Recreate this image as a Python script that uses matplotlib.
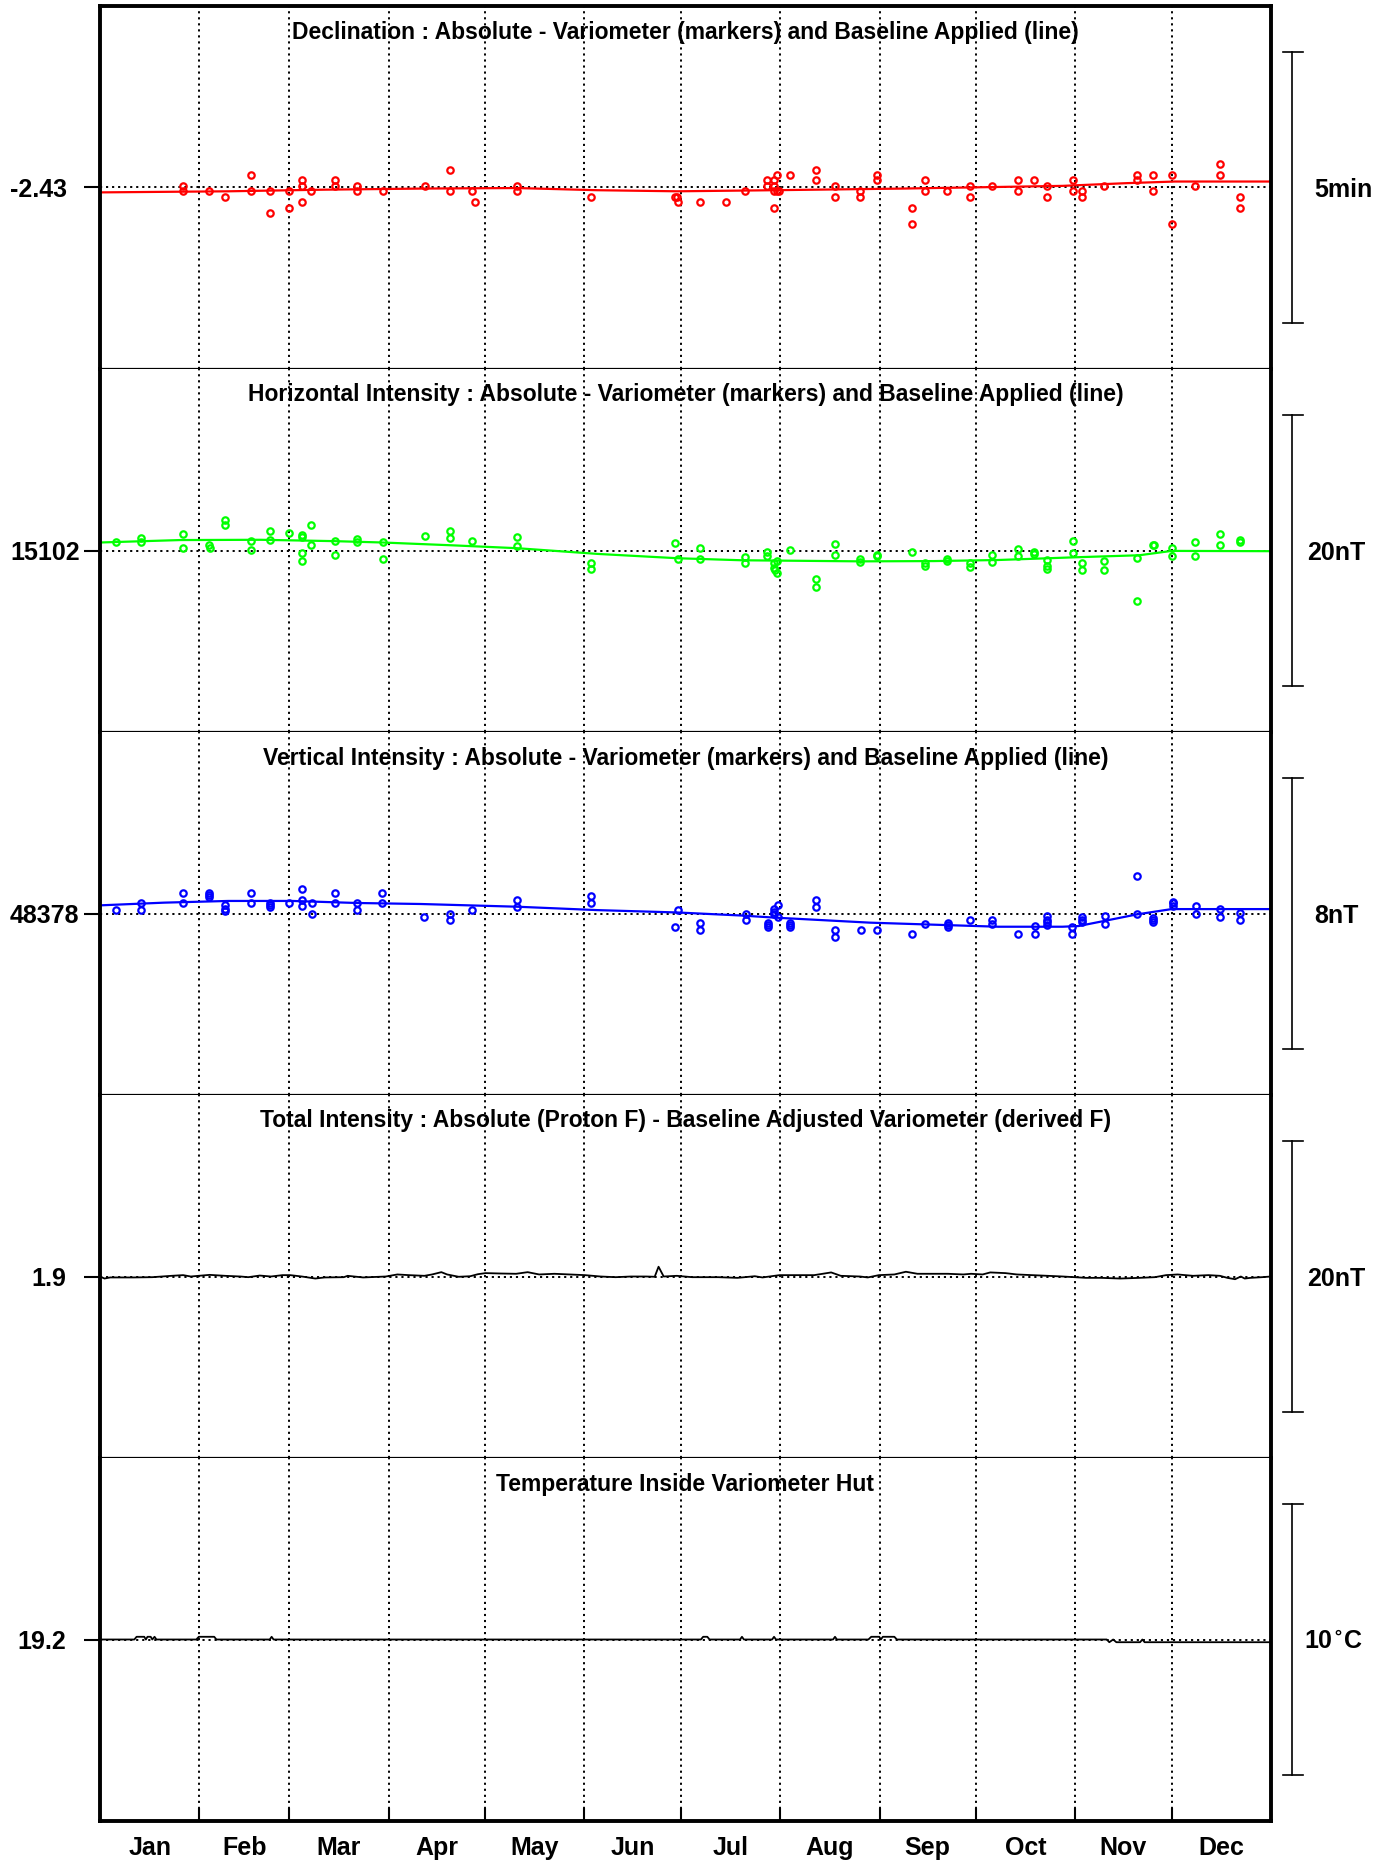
import matplotlib
matplotlib.use("Agg")
import matplotlib.pyplot as plt
from matplotlib.transforms import blended_transform_factory

plt.rcParams["font.family"] = ["Liberation Sans", "DejaVu Sans"]
plt.rcParams["font.weight"] = "bold"
plt.rcParams["mathtext.default"] = "bf"

# -- calendar, day of year --
months = ["Jan", "Feb", "Mar", "Apr", "May", "Jun",
          "Jul", "Aug", "Sep", "Oct", "Nov", "Dec"]
month_start = [0, 31, 59, 90, 120, 151, 181, 212, 243, 273, 304, 334, 365]

# -- declination (arc minutes): absolute - variometer and applied baseline --
decl_ref = -145.73
decl_obs_days = [26.0, 33.9, 39.1, 47.0, 53.0, 59.0, 63.0, 65.9, 73.1, 80.0,
                 88.1, 101.2, 109.1, 116.1, 117.0, 130.0, 153.1, 179.1, 180.0, 180.2,
                 187.1, 195.1, 201.1, 208.0, 210.1, 211.0, 211.6, 215.1, 223.2, 229.2,
                 237.0, 242.1, 253.1, 257.2, 264.1, 271.2, 278.1, 286.2, 291.2, 295.2,
                 303.2, 306.1, 313.1, 323.3, 328.2, 334.2, 341.2, 349.2, 355.2]
decl_obs = [[-145.7, -145.8], [-145.8], [-145.9], [-145.5, -145.8], [-145.8, -146.2],
            [-145.8, -146.1], [-145.6, -145.7, -146.0], [-145.8], [-145.6, -145.7],
            [-145.7, -145.8], [-145.8], [-145.7], [-145.4, -145.8], [-145.8], [-146.0],
            [-145.7, -145.8], [-145.9], [-145.9], [-145.9], [-146.0],
            [-146.0], [-146.0], [-145.8], [-145.6, -145.7],
            [-145.6, -145.7, -145.8, -146.1], [-145.5, -145.8], [-145.8], [-145.5],
            [-145.4, -145.6], [-145.7, -145.9],
            [-145.8, -145.9], [-145.5, -145.6], [-146.1, -146.4], [-145.6, -145.8],
            [-145.8], [-145.7, -145.9], [-145.7], [-145.6, -145.8], [-145.6],
            [-145.7, -145.9],
            [-145.6, -145.8], [-145.8, -145.9], [-145.7], [-145.5, -145.6],
            [-145.5, -145.8], [-145.5, -146.4], [-145.7], [-145.3, -145.5],
            [-145.9, -146.1]]
decl_base_days = [0, 40, 70, 100, 130, 155, 180, 210, 250, 280, 300, 320, 335, 365]
decl_base = [-145.82, -145.80, -145.77, -145.75, -145.74, -145.78, -145.80,
             -145.78, -145.75, -145.72, -145.70, -145.65, -145.62, -145.62]

# -- horizontal intensity (nT) --
h_ref = 15102.0
h_obs_days = [5.0, 12.9, 26.0, 33.9, 34.3, 39.1, 47.0, 53.0, 59.0, 63.0, 65.9, 73.1,
              80.0, 88.1, 101.2, 109.1, 116.1, 130.0, 153.1, 179.1, 180.1, 187.1,
              201.1, 208.0, 210.1, 210.4, 211.0, 215.1, 223.2, 229.2, 237.0, 242.1,
              253.1, 257.2, 264.1, 271.2, 278.1, 286.2, 291.2, 295.2, 303.2, 306.1,
              313.1, 323.3, 328.2, 328.6, 334.2, 341.2, 349.2, 355.2]
h_obs = [[15102.59], [15102.91, 15102.59], [15103.19, 15102.17], [15102.42],
         [15102.17], [15104.22, 15103.88], [15102.69, 15102.05], [15103.41, 15102.74],
         [15103.28], [15103.16, 15102.99, 15101.85, 15101.19], [15103.88, 15102.37],
         [15102.69, 15101.68],
         [15102.84, 15102.59], [15102.59, 15101.38], [15103.09], [15103.41, 15102.89],
         [15102.69], [15102.99, 15102.30], [15101.06, 15100.62], [15102.57],
         [15101.38], [15102.20, 15101.36],
         [15101.51, 15101.06], [15101.90, 15101.60], [15101.06, 15100.69], [15100.57],
         [15101.19, 15100.37], [15102.07], [15099.88, 15099.33], [15102.49, 15101.65],
         [15101.36, 15101.16], [15101.70, 15101.56],
         [15101.88], [15101.11, 15100.86], [15101.41, 15101.26], [15101.11, 15100.77],
         [15101.70, 15101.16], [15102.10, 15101.58], [15101.90, 15101.75],
         [15101.31, 15100.86, 15100.67], [15102.69, 15101.80], [15101.06, 15100.57],
         [15101.26, 15100.57], [15101.46, 15098.27], [15102.37], [15102.42],
         [15102.20, 15101.56], [15102.59, 15101.56], [15103.19, 15102.37],
         [15102.79, 15102.64]]
h_base_days = [0, 25, 50, 73, 88, 110, 130, 155, 180, 200, 237, 260, 280, 304,
               324, 334, 365]
h_base = [15102.59, 15102.77, 15102.79, 15102.69, 15102.59, 15102.38, 15102.17,
          15101.75, 15101.43, 15101.28, 15101.20, 15101.22, 15101.30, 15101.50,
          15101.65, 15101.97, 15101.95]

# -- vertical intensity (nT) --
z_ref = 48378.0
z_obs_days = [5.0, 12.9, 26.0, 34.0, 39.0, 47.1, 53.1, 59.0, 63.0, 66.1, 73.1, 80.2,
              88.0, 101.0, 109.1, 116.1, 130.1, 153.2, 179.3, 180.1, 187.1, 201.3,
              208.2, 210.0, 211.2, 215.2, 223.2, 229.1, 237.2, 242.2, 253.1, 257.3,
              264.3, 271.1, 278.1, 286.1, 291.3, 295.1, 303.1, 306.2, 313.2, 323.1,
              328.2, 334.3, 341.5, 349.1, 355.2]
z_obs = [[48378.10], [48378.32, 48378.10], [48378.61, 48378.31],
         [48378.61, 48378.55, 48378.49], [48378.24, 48378.14, 48378.07],
         [48378.61, 48378.31], [48378.32, 48378.24, 48378.18], [48378.31],
         [48378.71, 48378.41, 48378.22], [48378.31, 48378.00], [48378.61, 48378.31],
         [48378.32, 48378.10],
         [48378.61, 48378.31], [48377.90], [48378.00, 48377.80], [48378.10],
         [48378.41, 48378.20], [48378.51, 48378.31], [48377.61], [48378.10],
         [48377.72, 48377.51], [48378.00, 48377.80],
         [48377.72, 48377.65, 48377.59], [48378.12, 48378.05, 48377.98],
         [48378.24, 48377.90], [48377.72, 48377.65, 48377.59], [48378.41, 48378.20],
         [48377.51, 48377.31], [48377.51], [48377.51], [48377.41], [48377.70],
         [48377.72, 48377.65, 48377.59], [48377.80], [48377.82, 48377.70], [48377.41],
         [48377.63, 48377.41], [48377.92, 48377.82, 48377.74, 48377.67],
         [48377.61, 48377.41], [48377.90, 48377.82, 48377.76], [48377.92, 48377.70],
         [48379.11, 48378.00],
         [48377.88, 48377.82, 48377.76], [48378.34, 48378.30, 48378.23],
         [48378.22, 48378.00], [48378.12, 48377.90], [48378.02, 48377.80]]
z_base_days = [0, 20, 40, 60, 80, 100, 130, 155, 180, 200, 210, 240, 260, 280,
               300, 305, 313, 323, 334, 365]
z_base = [48378.24, 48378.32, 48378.37, 48378.37, 48378.31, 48378.28, 48378.20,
          48378.10, 48378.03, 48377.94, 48377.88, 48377.73, 48377.67, 48377.61,
          48377.61, 48377.63, 48377.78, 48377.97, 48378.13, 48378.13]

# -- total intensity difference, proton F minus derived F (nT) --
f_ref = 1.9
f_days = [0, 1.4, 3.2, 10.4, 16.3, 22.3, 25.9, 28.3, 30.7, 34.2, 39.0, 43.8, 46.2,
          49.8, 53.3, 56.9, 59.3, 62.9, 67.1, 70.0, 76.0, 77.2, 82.0, 89.1, 92.7,
          96.3, 101.1, 103.5, 106.4, 108.2, 111.8, 115.4, 117.8, 120.2, 124.9, 129.7,
          133.3, 136.9, 141.6, 146.4, 151.2, 156.0, 160.7, 165.5, 170.3, 172.9, 174.1,
          175.7, 179.8, 184.6, 186.8, 192.7, 198.7, 204.1, 206.5, 211.8, 216.6, 222.6,
          227.9, 230.9, 236.9, 239.3, 242.8, 247.6, 251.2, 254.8, 259.6, 264.3, 269.1,
          271.5, 275.1, 277.5, 282.2, 285.8, 290.6, 295.4, 300.1, 303.7, 307.3, 312.1,
          318.0, 324.0, 328.8, 332.3, 335.9, 340.7, 345.5, 349.1, 351.4, 353.8, 355.6,
          356.8, 358.6, 362.2, 365]
f_diff = [1.90, 1.75, 1.83, 1.83, 1.85, 1.95, 2.00, 1.90, 1.95, 2.02, 1.95, 1.90, 1.85,
          1.97, 1.90, 2.00, 2.00, 1.90, 1.75, 1.83, 1.85, 1.95, 1.83, 1.90, 2.05,
          2.00, 1.95, 2.05, 2.22, 2.05, 1.88, 1.92, 2.07, 2.15, 2.12, 2.10,
          2.22, 2.05, 2.10, 2.05, 2.00, 1.90, 1.85, 1.90, 1.90, 1.88, 2.62,
          1.90, 1.95, 1.85, 1.85, 1.85, 1.80, 1.92, 1.83, 2.00, 2.00, 2.00,
          2.20, 1.95, 1.90, 1.83, 2.00, 2.05, 2.25, 2.10, 2.10, 2.10, 2.05,
          2.10, 2.05, 2.20, 2.15, 2.05, 2.00, 1.95, 1.90, 1.85, 1.80, 1.80,
          1.75, 1.80, 1.85, 2.00, 2.05, 1.95, 2.00, 1.95, 1.80, 1.70, 1.90,
          1.75, 1.80, 1.85, 1.90]

# -- temperature inside the variometer hut (deg C) --
t_ref = 19.2
t_days = [0, 10.7, 11.4, 13.8, 14.3, 14.8, 15.8, 16.3, 17.0, 17.6, 30.0, 30.8, 35.6,
          36.3, 52.9, 53.5, 54.1, 187.3, 188.0, 189.3, 190.0, 199.5, 200.1, 200.7,
          209.5, 210.1, 210.7, 228.5, 229.1, 229.7, 239.5, 240.4, 242.9, 243.4, 244.0,
          247.6, 248.4, 313.8, 314.6, 315.8, 316.8, 324.2, 324.9, 325.6, 365]
t_hut = [19.2, 19.2, 19.3, 19.3, 19.2, 19.3, 19.3, 19.2, 19.3, 19.2, 19.2, 19.3, 19.3,
         19.2, 19.2, 19.3, 19.2, 19.2, 19.3, 19.3, 19.2, 19.2, 19.3, 19.2,
         19.2, 19.3, 19.2, 19.2, 19.3, 19.2, 19.2, 19.3, 19.3, 19.2, 19.3,
         19.3, 19.2, 19.2, 19.1, 19.2, 19.1, 19.1, 19.2, 19.1, 19.1]

panels = [
    dict(title="Declination : Absolute - Variometer (markers) and Baseline Applied (line)",
         ref=decl_ref, label="-2.43", bar=5.0, bar_label="5min", color="#ff0000",
         obs_days=decl_obs_days, obs=decl_obs, line_days=decl_base_days, line=decl_base),
    dict(title="Horizontal Intensity : Absolute - Variometer (markers) and Baseline Applied (line)",
         ref=h_ref, label="15102", bar=20.0, bar_label="20nT", color="#00ff00",
         obs_days=h_obs_days, obs=h_obs, line_days=h_base_days, line=h_base),
    dict(title="Vertical Intensity : Absolute - Variometer (markers) and Baseline Applied (line)",
         ref=z_ref, label="48378", bar=8.0, bar_label="8nT", color="#0000ff",
         obs_days=z_obs_days, obs=z_obs, line_days=z_base_days, line=z_base),
    dict(title="Total Intensity : Absolute (Proton F) - Baseline Adjusted Variometer (derived F)",
         ref=f_ref, label="1.9", bar=20.0, bar_label="20nT", color="black",
         obs_days=None, obs=None, line_days=f_days, line=f_diff),
    dict(title="Temperature Inside Variometer Hut",
         ref=t_ref, label="19.2", bar=10.0, bar_label="10$^{\\circ}$C", color="black",
         obs_days=None, obs=None, line_days=t_days, line=t_hut),
]

# -- layout in figure pixels (1386 x 1863) --
W, H = 1386, 1863
x0, x1 = 100, 1271
top, panel_px = 6, 363
bar_frac = 0.7475           # scale bar height as a fraction of panel height
label_pad = [12.6, 3.2, 3.2, 12.6, 12.6]
bar_text_x = [1.0615, 1.0555, 1.0555, 1.0555, 1.0530]
dots = (0, (1.1, 2.0))
outer_lw, inner_lw = 2.8, 1.6

fig = plt.figure(figsize=(W / 100, H / 100), dpi=100)
n = len(panels)
for i, p in enumerate(panels):
    bottom_px = top + (i + 1) * panel_px
    ax = fig.add_axes([x0 / W, 1 - bottom_px / H, (x1 - x0) / W, panel_px / H])
    half = (p["bar"] / 2) / bar_frac
    ax.set_xlim(0, 365)
    ax.set_ylim(p["ref"] - half, p["ref"] + half)

    # month boundaries and the reference level
    for d in month_start[1:-1]:
        ax.axvline(d, color="black", lw=1.4, ls=dots, zorder=1)
    ax.axhline(p["ref"], color="black", lw=1.4, ls=dots, zorder=1)

    ax.plot(p["line_days"], p["line"], color=p["color"],
            lw=1.6 if p["obs"] is not None else 1.3, zorder=2)
    if p["obs"] is not None:
        xs = [d for d, vals in zip(p["obs_days"], p["obs"]) for _ in vals]
        ys = [v for vals in p["obs"] for v in vals]
        ax.plot(xs, ys, ls="none", marker="o", ms=4.6, mfc="none",
                mec=p["color"], mew=1.6, zorder=3)

    ax.text(0.5, 1 - 26 / panel_px, p["title"], transform=ax.transAxes,
            ha="center", va="center", fontsize=16.5, fontweight="bold")

    # scale bar outside the right edge
    tr = blended_transform_factory(ax.transAxes, ax.transData)
    lo, hi = p["ref"] - p["bar"] / 2, p["ref"] + p["bar"] / 2
    ax.plot([1.018, 1.018], [lo, hi], transform=tr, clip_on=False,
            color="black", lw=1.2)
    for yy in (lo, hi):
        ax.plot([1.010, 1.027], [yy, yy], transform=tr, clip_on=False,
                color="black", lw=1.2)
    ax.text(bar_text_x[i], p["ref"], p["bar_label"], transform=tr,
            ha="center", va="center_baseline", fontsize=18, fontweight="bold")

    # single reference tick on the left
    ax.set_yticks([p["ref"]])
    ax.set_yticklabels([p["label"]])
    ax.tick_params(axis="y", direction="out", length=11.5, width=1.5,
                   labelsize=18, pad=label_pad[i])

    for side in ("left", "right"):
        ax.spines[side].set_linewidth(outer_lw)
    ax.spines["top"].set_linewidth(outer_lw if i == 0 else inner_lw)
    ax.spines["top"].set_visible(i == 0)
    ax.spines["bottom"].set_linewidth(outer_lw if i == n - 1 else inner_lw)

    if i == n - 1:
        ax.set_xticks(month_start[1:-1])
        ax.set_xticklabels([])
        ax.tick_params(axis="x", which="major", direction="in", length=9.5, width=1.5)
        mids = [(a + b) / 2 for a, b in zip(month_start[:-1], month_start[1:])]
        ax.set_xticks(mids, minor=True)
        ax.set_xticklabels(months, minor=True, fontsize=18, fontweight="bold")
        ax.tick_params(axis="x", which="minor", length=0, pad=11)
    else:
        ax.set_xticks([])

fig.savefig("out.png", dpi=100)
